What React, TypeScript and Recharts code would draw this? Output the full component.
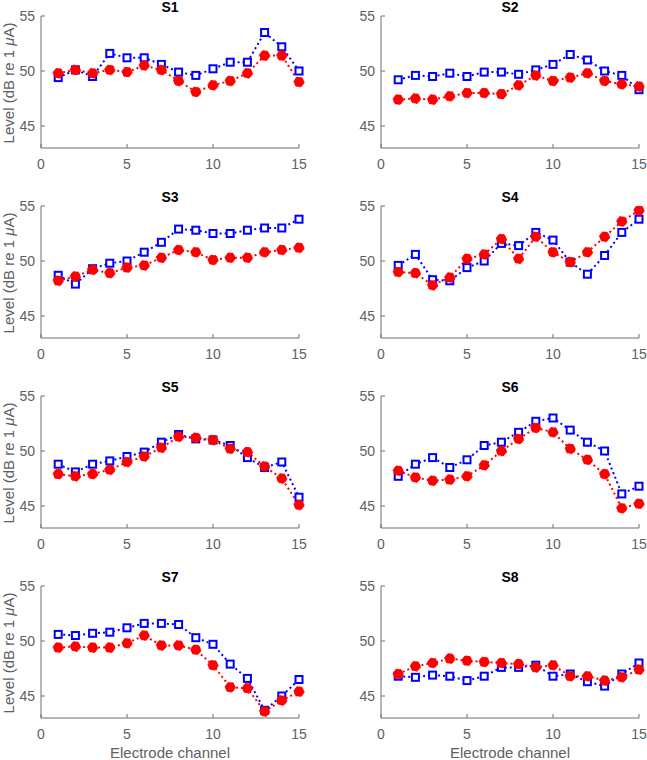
import { LineChart, Line, XAxis, YAxis } from "recharts";

// electrode channels and axis ticks
const CHANNELS = [1, 2, 3, 4, 5, 6, 7, 8, 9, 10, 11, 12, 13, 14, 15];
const X_TICKS = [0, 5, 10, 15];
const Y_TICKS = [45, 50, 55];
const SUBJECTS = ["S1", "S2", "S3", "S4", "S5", "S6", "S7", "S8"];

// blue open squares / red filled circles, per subject
const S1_BLUE = [49.4, 50.1, 49.5, 51.6, 51.2, 51.2, 50.6, 49.9, 49.6, 50.2, 50.8, 50.8, 53.5, 52.2, 50.0];
const S1_RED = [49.8, 50.1, 49.8, 50.1, 49.9, 50.5, 50.1, 49.1, 48.1, 48.7, 49.1, 49.8, 51.4, 51.4, 49.0];
const S2_BLUE = [49.2, 49.6, 49.5, 49.8, 49.5, 49.9, 49.9, 49.7, 50.1, 50.6, 51.5, 51.0, 50.0, 49.6, 48.3];
const S2_RED = [47.4, 47.5, 47.4, 47.7, 48.0, 48.0, 47.9, 48.7, 49.6, 49.1, 49.4, 49.8, 49.1, 48.8, 48.6];
const S3_BLUE = [48.7, 47.9, 49.3, 49.8, 50.0, 50.8, 51.7, 52.9, 52.8, 52.5, 52.5, 52.8, 53.0, 53.0, 53.8];
const S3_RED = [48.2, 48.6, 49.2, 48.9, 49.4, 49.6, 50.3, 51.0, 50.8, 50.1, 50.3, 50.3, 50.8, 51.0, 51.2];
const S4_BLUE = [49.6, 50.6, 48.3, 48.2, 49.4, 50.0, 51.6, 51.4, 52.6, 51.9, 49.9, 48.8, 50.5, 52.6, 53.8];
const S4_RED = [49.0, 48.9, 47.8, 48.5, 50.2, 50.6, 52.0, 50.2, 52.2, 50.8, 49.9, 50.8, 52.2, 53.6, 54.6];
const S5_BLUE = [48.8, 48.1, 48.8, 49.1, 49.5, 49.9, 50.8, 51.5, 51.1, 51.0, 50.5, 49.4, 48.5, 49.0, 45.8];
const S5_RED = [47.9, 47.7, 47.9, 48.3, 49.0, 49.5, 50.3, 51.3, 51.2, 51.0, 50.2, 49.9, 48.6, 47.5, 45.1];
const S6_BLUE = [47.7, 48.8, 49.4, 48.5, 49.2, 50.5, 50.8, 51.7, 52.7, 53.0, 51.9, 50.8, 50.0, 46.1, 46.8];
const S6_RED = [48.2, 47.6, 47.3, 47.4, 47.7, 48.7, 50.0, 51.1, 52.1, 51.7, 50.2, 49.2, 47.9, 44.8, 45.2];
const S7_BLUE = [50.6, 50.5, 50.7, 50.8, 51.2, 51.6, 51.6, 51.5, 50.3, 49.7, 47.9, 46.6, 43.7, 45.0, 46.5];
const S7_RED = [49.4, 49.5, 49.4, 49.4, 49.8, 50.5, 49.6, 49.6, 49.2, 47.8, 45.8, 45.7, 43.6, 44.6, 45.4];
const S8_BLUE = [46.8, 46.7, 46.9, 46.8, 46.4, 46.8, 47.6, 47.6, 47.8, 46.8, 47.0, 46.3, 45.9, 47.0, 48.0];
const S8_RED = [47.0, 47.7, 48.0, 48.4, 48.2, 48.1, 48.0, 47.9, 47.6, 47.8, 46.8, 46.8, 46.4, 46.7, 47.4];

const BLUE_SERIES = [S1_BLUE, S2_BLUE, S3_BLUE, S4_BLUE, S5_BLUE, S6_BLUE, S7_BLUE, S8_BLUE];
const RED_SERIES = [S1_RED, S2_RED, S3_RED, S4_RED, S5_RED, S6_RED, S7_RED, S8_RED];

const FONT = '"Liberation Sans", Arial, sans-serif';
const AXIS = "#6e6e6e";
const TEXT = "#606060";
const BLUE = "#0000ff";
const RED = "#ff0000";

const PANEL_W = 307;
const PANEL_H = 190;
const COL_LEFT = [0, 340];

function XTick({ x, y, payload }: any) {
  return (
    <g>
      <line x1={x} x2={x} y1={y} y2={y - 4} stroke={AXIS} />
      <text x={x} y={y + 16} textAnchor="middle" dominantBaseline="central" fill={TEXT} fontSize={14} fontFamily={FONT}>
        {payload.value}
      </text>
    </g>
  );
}

function YTick({ x, y, payload }: any) {
  return (
    <g>
      <line x1={x} x2={x + 4} y1={y} y2={y} stroke={AXIS} />
      <text x={x - 6} y={y} textAnchor="end" dominantBaseline="central" fill={TEXT} fontSize={14} fontFamily={FONT}>
        {payload.value}
      </text>
    </g>
  );
}

function SquareDot({ cx, cy, index }: any) {
  if (cx == null || cy == null) return <g key={index} />;
  return <rect key={index} x={cx - 3.5} y={cy - 3.5} width={7} height={7} fill="#fff" stroke={BLUE} strokeWidth={2} />;
}

function Panel({ idx }: { idx: number }) {
  const col = idx % 2;
  const row = Math.floor(idx / 2);
  const data = CHANNELS.map((ch, i) => ({ ch, blue: BLUE_SERIES[idx][i], red: RED_SERIES[idx][i] }));
  const left = COL_LEFT[col];
  const top = row * PANEL_H;
  return (
    <div style={{ position: "absolute", left, top, width: PANEL_W, height: PANEL_H }}>
      <div
        style={{
          position: "absolute",
          left: 41,
          width: 258,
          top: -1,
          textAlign: "center",
          fontWeight: "bold",
          fontSize: 14,
          color: "#000",
          fontFamily: FONT,
        }}
      >
        {SUBJECTS[idx]}
      </div>
      {col === 0 && (
        <div
          style={{
            position: "absolute",
            left: 8.5 - 100,
            top: 83 - 10,
            width: 200,
            height: 20,
            lineHeight: "20px",
            textAlign: "center",
            transform: "rotate(-90deg)",
            fontSize: 15,
            color: TEXT,
            fontFamily: FONT,
            whiteSpace: "nowrap",
          }}
        >
          Level (dB re 1 <i>μ</i>A)
        </div>
      )}
      {row === 3 && (
        <div
          style={{
            position: "absolute",
            left: 41,
            width: 258,
            top: 174,
            textAlign: "center",
            fontSize: 15,
            color: TEXT,
            fontFamily: FONT,
          }}
        >
          Electrode channel
        </div>
      )}
      <LineChart width={PANEL_W} height={PANEL_H} data={data} margin={{ top: 16, right: 8, bottom: 0, left: 0 }} style={{ overflow: "visible" }}>
        <XAxis
          dataKey="ch"
          type="number"
          domain={[0, 15]}
          ticks={X_TICKS}
          interval={0}
          height={42}
          stroke={AXIS}
          tickSize={0}
          tickMargin={0}
          tickLine={false}
          tick={<XTick />}
        />
        <YAxis
          type="number"
          domain={[43, 55]}
          ticks={Y_TICKS}
          interval={0}
          width={41}
          stroke={AXIS}
          tickSize={0}
          tickMargin={0}
          tickLine={false}
          tick={<YTick />}
          allowDataOverflow
        />
        <Line
          dataKey="blue"
          type="linear"
          stroke={BLUE}
          strokeWidth={2}
          strokeDasharray="2 3"
          dot={(p: any) => <SquareDot key={p.index} {...p} />}
          activeDot={false}
          isAnimationActive={false}
        />
        <Line
          dataKey="red"
          type="linear"
          stroke={RED}
          strokeWidth={2}
          strokeDasharray="2 3"
          dot={{ r: 5, fill: RED, stroke: RED, strokeWidth: 1 }}
          activeDot={false}
          isAnimationActive={false}
        />
      </LineChart>
    </div>
  );
}

export default function App() {
  return (
    <div style={{ position: "absolute", left: 0, top: 0, width: 647, height: 760, background: "#fff", overflow: "hidden" }}>
      {SUBJECTS.map((s, i) => (
        <Panel key={s} idx={i} />
      ))}
    </div>
  );
}
